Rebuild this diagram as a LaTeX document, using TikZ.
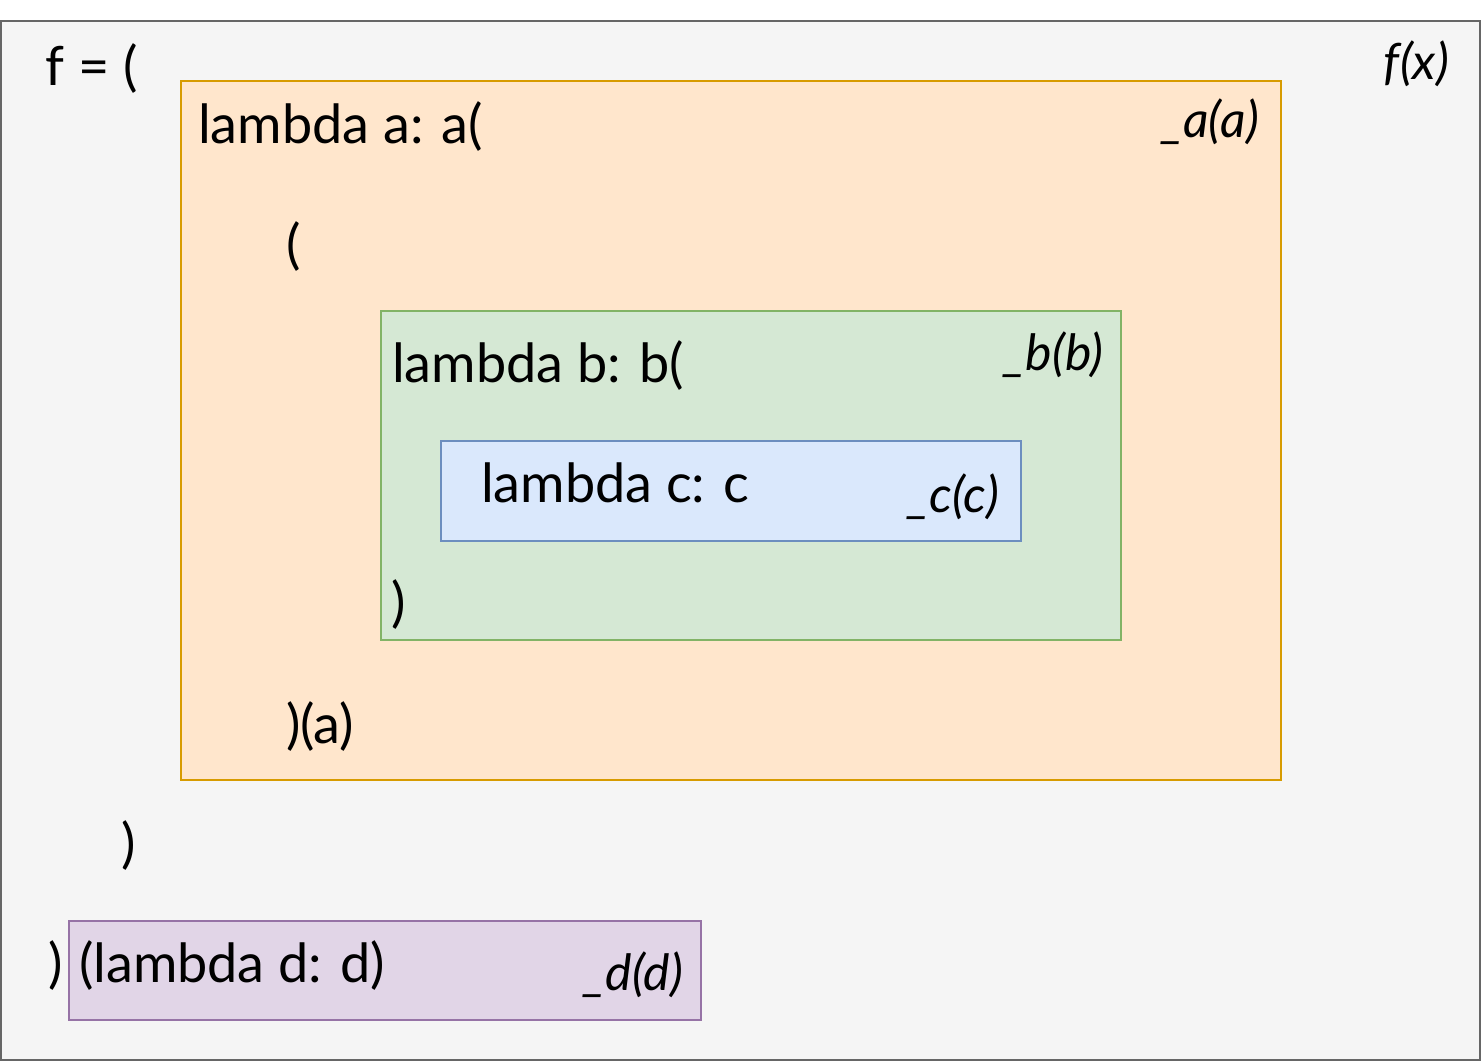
\documentclass[tikz,border=0pt]{standalone}
\usepackage{fontspec}
\setmainfont{Lato}
\usepackage{tikz}
\usepackage{xcolor}

\definecolor{outerfill}{HTML}{F5F5F5}
\definecolor{outerline}{HTML}{666666}
\definecolor{afill}{HTML}{FFE6CC}
\definecolor{aline}{HTML}{D79B00}
\definecolor{bfill}{HTML}{D5E8D4}
\definecolor{bline}{HTML}{82B366}
\definecolor{cfill}{HTML}{DAE8FC}
\definecolor{cline}{HTML}{6C8EBF}
\definecolor{dfill}{HTML}{E1D5E7}
\definecolor{dline}{HTML}{9673A6}

\tikzset{
  code/.style={anchor=base west,inner sep=0pt,font=\fontsize{27}{33}\selectfont},
  tag/.style={anchor=base east,inner sep=0pt,font=\fontsize{25}{30}\selectfont\itshape},
}

\begin{document}
\begin{tikzpicture}[x=0.5pt,y=-0.5pt,line width=1pt]
\useasboundingbox (0,0) rectangle (1482,1062);
\fill[outerfill] (1,21) rectangle (1480,1060);
\draw[outerline] (1,21) rectangle (1480,1060);
\fill[afill] (181,81) rectangle (1281,780);
\draw[aline] (181,81) rectangle (1281,780);
\fill[bfill] (381,311) rectangle (1121,640);
\draw[bline] (381,311) rectangle (1121,640);
\fill[cfill] (441,441) rectangle (1021,541);
\draw[cline] (441,441) rectangle (1021,541);
\fill[dfill] (69,921) rectangle (701,1020);
\draw[dline] (69,921) rectangle (701,1020);
% code lines
\node[code] (fdef) at (45,85) {f = (};
\node[code] (lama) at (197,143) {lambda a: a(};
\node[code] (opena) at (285,263) {(};
\node[code] (lamb) at (391,382) {lambda b: b(};
\node[code] (lamc) at (480,502) {lambda c: c};
\node[code] (closeb) at (390,621) {)};
\node[code] (closea) at (285,743) {)(a)};
\node[code] (closef) at (120,862) {)};
\node[code] (closeo) at (47,982) {)};
\node[code] (lamd) at (78,982) {(lambda d: d)};
% tags
\node[tag] (tagf) at (1450,79) {f(x)};
\node[tag] (taga) at (1260,137) {\_a(a)};
\node[tag] (tagb) at (1104,370) {\_b(b)};
\node[tag] (tagc) at (1000,512) {\_c(c)};
\node[tag] (tagd) at (684,990) {\_d(d)};
\end{tikzpicture}
\end{document}
